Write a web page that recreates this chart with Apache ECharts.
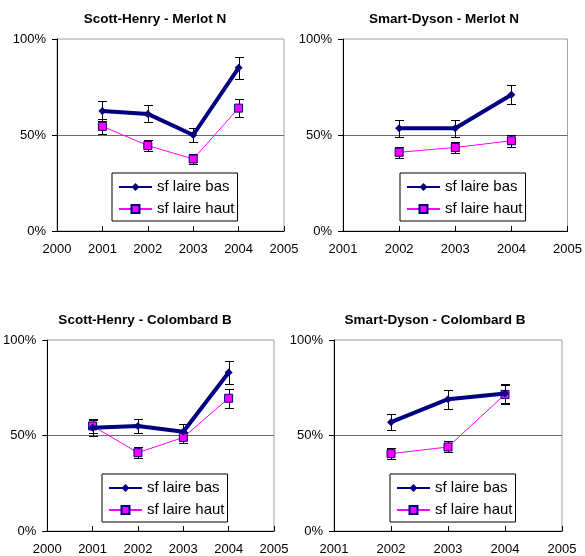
<!DOCTYPE html>
<html>
<head>
<meta charset="utf-8">
<script src="https://cdn.jsdelivr.net/npm/echarts@6/dist/echarts.min.js"></script>
<style>html,body{margin:0;padding:0;background:#fff;}#c{width:585px;height:556px;}</style>
</head>
<body>
<div id="c"></div>
<script>
const seriesNames = ['sf laire bas', 'sf laire haut'];
const titles = ['Scott-Henry - Merlot N', 'Smart-Dyson - Merlot N', 'Scott-Henry - Colombard B', 'Smart-Dyson - Colombard B'];
const yearsSH = [2001, 2002, 2003, 2004];
const yearsSD = [2002, 2003, 2004];
const xMinSH = 2000, xMinSD = 2001, xMax = 2005;

const shMerlotBas = [62.5, 61, 50, 85];
const shMerlotBasErr = [5, 4.4, 3.5, 5.8];
const shMerlotHaut = [54.5, 44.5, 37.5, 64];
const shMerlotHautErr = [4, 3, 2.7, 4.5];

const sdMerlotBas = [53.5, 53.5, 71];
const sdMerlotBasErr = [4.3, 4.3, 4.8];
const sdMerlotHaut = [41, 43.5, 47];
const sdMerlotHautErr = [2.8, 3, 3.2];

const shColBas = [54, 55, 52, 83];
const shColBasErr = [4, 3.8, 3.9, 6];
const shColHaut = [55, 41, 49, 69.5];
const shColHautErr = [3.8, 2.8, 3, 5];

const sdColBas = [57, 69, 72];
const sdColBasErr = [4, 5, 5];
const sdColHaut = [40.5, 44, 71.5];
const sdColHautErr = [2.8, 2.9, 5];

const panels = [
  {years: yearsSH, xMin: xMinSH, bas: shMerlotBas, basErr: shMerlotBasErr, haut: shMerlotHaut, hautErr: shMerlotHautErr,
   grid: {left: 57, top: 39, width: 227, height: 192}, titleX: 155, titleY: 12, legend: {left: 112, top: 173}},
  {years: yearsSD, xMin: xMinSD, bas: sdMerlotBas, basErr: sdMerlotBasErr, haut: sdMerlotHaut, hautErr: sdMerlotHautErr,
   grid: {left: 343, top: 39, width: 229, height: 192}, titleX: 444, titleY: 12, legend: {left: 400, top: 173}},
  {years: yearsSH, xMin: xMinSH, bas: shColBas, basErr: shColBasErr, haut: shColHaut, hautErr: shColHautErr,
   grid: {left: 46, top: 340, width: 228, height: 192}, titleX: 145, titleY: 313, legend: {left: 102, top: 474}},
  {years: yearsSD, xMin: xMinSD, bas: sdColBas, basErr: sdColBasErr, haut: sdColHaut, hautErr: sdColHautErr,
   grid: {left: 334, top: 340, width: 228, height: 192}, titleX: 435, titleY: 313, legend: {left: 390, top: 474}}
];

const FONT = "'Liberation Sans', Arial, sans-serif";

function errRender(params, api) {
  const x = api.value(0), lo = api.value(1), hi = api.value(2);
  const p1 = api.coord([x, hi]), p2 = api.coord([x, lo]);
  const cx = Math.round(p1[0]) + 0.5;
  const y1 = Math.round(p1[1]) + 0.5, y2 = Math.round(p2[1]) + 0.5;
  const w = 4.5;
  const st = {stroke: '#000', lineWidth: 1};
  return {type: 'group', children: [
    {type: 'line', shape: {x1: cx, y1: y1, x2: cx, y2: y2}, style: st},
    {type: 'line', shape: {x1: cx - w, y1: y1, x2: cx + w, y2: y1}, style: st},
    {type: 'line', shape: {x1: cx - w, y1: y2, x2: cx + w, y2: y2}, style: st}
  ]};
}

const option = {
  animation: false,
  backgroundColor: '#fff',
  textStyle: {fontFamily: FONT},
  title: [], grid: [], xAxis: [], yAxis: [], legend: [], series: []
};

panels.forEach((p, i) => {
  option.title.push({
    text: titles[i], left: p.titleX, top: p.titleY, textAlign: 'center', padding: 0,
    textStyle: {fontFamily: FONT, fontSize: 13.5, fontWeight: 'bold', color: '#000'}
  });
  option.grid.push(Object.assign({show: true, borderColor: '#a0a0a0', borderWidth: 1, backgroundColor: 'transparent', containLabel: false}, p.grid));
  option.xAxis.push({
    type: 'value', gridIndex: i, min: p.xMin, max: xMax, interval: 1,
    axisLine: {show: true, lineStyle: {color: '#000', width: 1}},
    axisTick: {show: true, inside: true, length: 5, lineStyle: {color: '#000'}},
    axisLabel: {color: '#000', fontSize: 13, fontFamily: FONT, margin: 12, formatter: v => String(v)},
    splitLine: {show: false}
  });
  option.yAxis.push({
    type: 'value', gridIndex: i, min: 0, max: 100, interval: 50,
    axisLine: {show: true, lineStyle: {color: '#000', width: 1}},
    axisTick: {show: true, inside: false, length: 5, lineStyle: {color: '#000'}},
    axisLabel: {color: '#000', fontSize: 13, fontFamily: FONT, margin: 11, formatter: '{value}%'},
    splitLine: {show: true, showMinLine: false, showMaxLine: false, lineStyle: {color: '#6a6a6a', width: 1}}
  });
  option.legend.push({
    data: seriesNames, orient: 'vertical', left: p.legend.left, top: p.legend.top,
    backgroundColor: '#fff', borderColor: '#000', borderWidth: 1, borderRadius: 0,
    padding: [6, 3, 4, 6], itemGap: 6, itemWidth: 33, itemHeight: 10,
    selectedMode: false, z: 10,
    textStyle: {fontFamily: FONT, fontSize: 15, color: '#000', lineHeight: 16}
  });
  const errBas = p.years.map((y, k) => [y, p.bas[k] - p.basErr[k], p.bas[k] + p.basErr[k]]);
  const errHaut = p.years.map((y, k) => [y, p.haut[k] - p.hautErr[k], p.haut[k] + p.hautErr[k]]);
  option.series.push({
    type: 'custom', name: 'errBas' + i, xAxisIndex: i, yAxisIndex: i, z: 1,
    renderItem: errRender, data: errBas, encode: {x: 0, y: [1, 2]}, silent: true
  });
  option.series.push({
    type: 'custom', name: 'errHaut' + i, xAxisIndex: i, yAxisIndex: i, z: 1,
    renderItem: errRender, data: errHaut, encode: {x: 0, y: [1, 2]}, silent: true
  });
  option.series.push({
    type: 'line', name: seriesNames[0], xAxisIndex: i, yAxisIndex: i, z: 3,
    data: p.years.map((y, k) => [y, p.bas[k]]),
    symbol: 'diamond', symbolSize: 8, showAllSymbol: true,
    lineStyle: {color: '#000080', width: 4},
    itemStyle: {color: '#000080'}
  });
  option.series.push({
    type: 'line', name: seriesNames[1], xAxisIndex: i, yAxisIndex: i, z: 2,
    data: p.years.map((y, k) => [y, p.haut[k]]),
    symbol: 'rect', symbolSize: 8, showAllSymbol: true,
    lineStyle: {color: '#FF00FF', width: 1},
    itemStyle: {color: '#FF00FF', borderColor: '#000080', borderWidth: 1}
  });
});

const chart = echarts.init(document.getElementById('c'), null, {renderer: 'canvas'});
chart.setOption(option);
</script>
</body>
</html>
